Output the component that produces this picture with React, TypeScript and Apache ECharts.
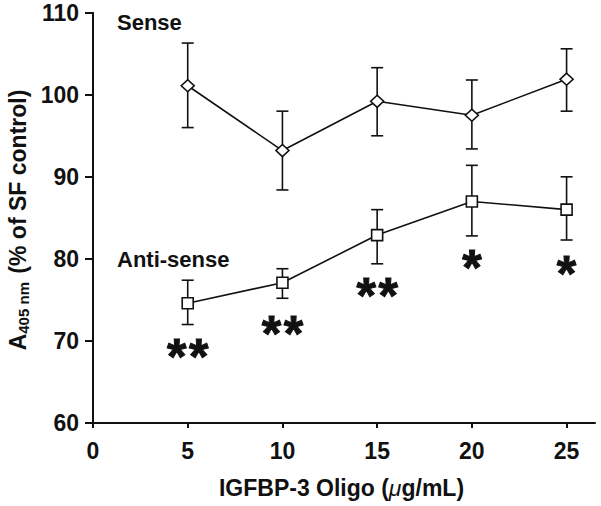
import React, { useEffect, useRef } from "react";
import * as echarts from "echarts";

const xValues = [5, 10, 15, 20, 25];
const senseMean = [101.1, 93.2, 99.2, 97.5, 101.9];
const senseLow = [96.0, 88.4, 95.0, 93.4, 98.0];
const senseHigh = [106.3, 98.0, 103.3, 101.8, 105.6];
const antiMean = [74.6, 77.1, 82.9, 87.0, 86.0];
const antiLow = [72.0, 75.2, 79.4, 82.8, 82.3];
const antiHigh = [77.4, 78.8, 86.0, 91.4, 90.0];
const starY = [68.8, 71.6, 76.2, 79.6, 78.9];
const starCount = [2, 2, 2, 1, 1];

const FONT = "'Liberation Sans', Arial, Helvetica, sans-serif";
const INK = "#111";

function errorBarSeries(low: number[], high: number[]) {
  return {
    type: "custom",
    z: 1,
    data: xValues.map((x, i) => [x, low[i], high[i]]),
    renderItem: (params: any, api: any) => {
      const lo = api.coord([api.value(0), api.value(1)]);
      const hi = api.coord([api.value(0), api.value(2)]);
      const cap = 6;
      const style = { stroke: INK, lineWidth: 1.6 };
      return {
        type: "group",
        children: [
          { type: "line", shape: { x1: lo[0], y1: lo[1], x2: hi[0], y2: hi[1] }, style },
          { type: "line", shape: { x1: lo[0] - cap, y1: lo[1], x2: lo[0] + cap, y2: lo[1] }, style },
          { type: "line", shape: { x1: hi[0] - cap, y1: hi[1], x2: hi[0] + cap, y2: hi[1] }, style },
        ],
      };
    },
  };
}

export default function App() {
  const ref = useRef<HTMLDivElement>(null);
  useEffect(() => {
    document.body.style.margin = "0";
    const chart = echarts.init(ref.current!, null, { renderer: "svg" });
    const option: any = {
      animation: false,
      backgroundColor: "#fff",
      textStyle: { fontFamily: FONT },
      grid: { left: 93, right: 6, top: 12.7, bottom: 83 },
      xAxis: {
        type: "value",
        min: 0,
        max: 26.5,
        interval: 5,
        axisLine: { lineStyle: { color: INK, width: 2 } },
        axisTick: { show: true, length: 5, lineStyle: { color: INK, width: 2 } },
        axisLabel: {
          color: INK,
          fontSize: 23,
          fontWeight: "bold",
          fontFamily: FONT,
          margin: 16,
          showMaxLabel: false,
        },
        splitLine: { show: false },
      },
      yAxis: {
        type: "value",
        min: 60,
        max: 110,
        interval: 10,
        axisLine: { show: true, lineStyle: { color: INK, width: 2 } },
        axisTick: { show: true, length: 8, lineStyle: { color: INK, width: 2 } },
        axisLabel: {
          color: INK,
          fontSize: 23,
          fontWeight: "bold",
          fontFamily: FONT,
          margin: 14,
        },
        splitLine: { show: false },
      },
      graphic: [
        {
          type: "text",
          x: 117,
          y: 22.5,
          style: {
            text: "Sense",
            font: `bold 22px ${FONT}`,
            fill: INK,
            align: "left",
            verticalAlign: "middle",
          },
        },
        {
          type: "text",
          x: 117,
          y: 259,
          style: {
            text: "Anti-sense",
            font: `bold 22px ${FONT}`,
            fill: INK,
            align: "left",
            verticalAlign: "middle",
          },
        },
        {
          type: "text",
          x: 18,
          y: 220,
          rotation: Math.PI / 2,
          style: {
            text: "{a|A}{s|405 nm}{a| (% of SF control)}",
            align: "center",
            verticalAlign: "middle",
            fill: INK,
            rich: {
              a: { fontSize: 23, fontWeight: "bold", fontFamily: FONT, fill: INK, lineHeight: 26, verticalAlign: "middle" },
              s: { fontSize: 15, fontWeight: "bold", fontFamily: FONT, fill: INK, verticalAlign: "bottom", padding: [0, 2, 0, 0] },
            },
          },
        },
        {
          type: "text",
          x: 341.5,
          y: 487.5,
          style: {
            text: "{a|IGFBP-3 Oligo (}{i|μ}{a|g/mL)}",
            align: "center",
            verticalAlign: "middle",
            fill: INK,
            rich: {
              a: { fontSize: 23, fontWeight: "bold", fontFamily: FONT, fill: INK },
              i: { fontSize: 23, fontStyle: "italic", fontFamily: FONT, fill: INK },
            },
          },
        },
      ],
      series: [
        errorBarSeries(senseLow, senseHigh),
        errorBarSeries(antiLow, antiHigh),
        {
          type: "line",
          z: 3,
          data: xValues.map((x, i) => [x, senseMean[i]]),
          symbol: "diamond",
          symbolSize: [13, 12],
          lineStyle: { color: INK, width: 1.6 },
          itemStyle: { color: "#fff", borderColor: INK, borderWidth: 1.6 },
        },
        {
          type: "line",
          z: 3,
          data: xValues.map((x, i) => [x, antiMean[i]]),
          symbol: "rect",
          symbolSize: 11,
          lineStyle: { color: INK, width: 1.6 },
          itemStyle: { color: "#fff", borderColor: INK, borderWidth: 1.6 },
        },
        {
          type: "custom",
          z: 4,
          data: xValues.map((x, i) => [x, starY[i], starCount[i]]),
          renderItem: (params: any, api: any) => {
            const p = api.coord([api.value(0), api.value(1)]);
            const n = api.value(2);
            const children: any[] = [];
            for (let k = 0; k < n; k++) {
              children.push({
                type: "text",
                x: p[0] + (k - (n - 1) / 2) * 22,
                y: p[1] + 6,
                style: {
                  text: "*",
                  font: `bold 50px ${FONT}`,
                  fill: INK,
                  stroke: INK,
                  lineWidth: 1,
                  align: "center",
                  verticalAlign: "middle",
                },
              });
            }
            return { type: "group", children };
          },
        },
      ],
    };
    chart.setOption(option);
    return () => chart.dispose();
  }, []);
  return <div ref={ref} style={{ width: 601, height: 506 }} />;
}
